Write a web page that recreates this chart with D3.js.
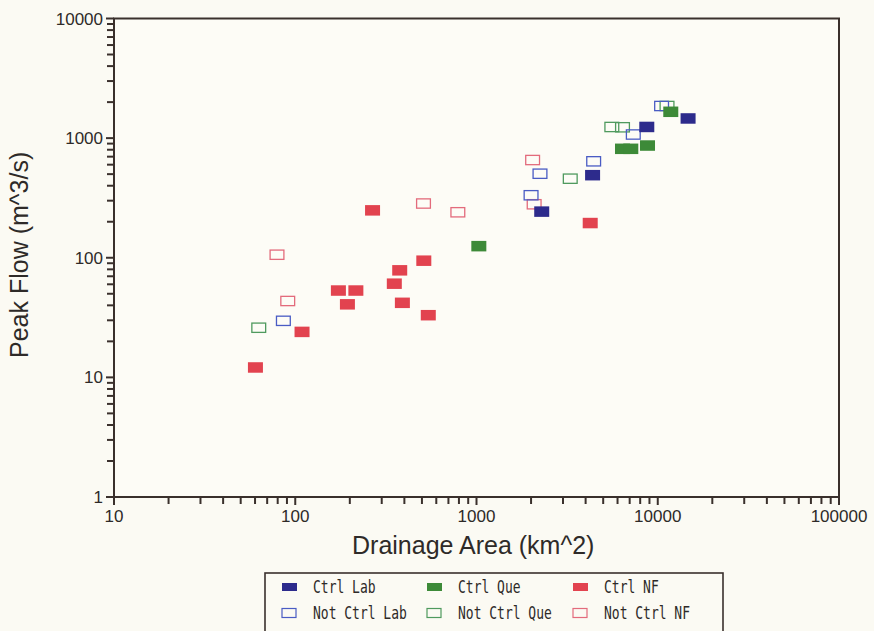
<!DOCTYPE html>
<html>
<head>
<meta charset="utf-8">
<script src="https://cdn.jsdelivr.net/npm/d3@7"></script>
<style>
  html, body { margin: 0; padding: 0; background: #fbfaf3; }
  svg { display: block; }
</style>
</head>
<body>
<svg id="chart" width="874" height="631"></svg>
<script>
// ---- Data (drainage area km^2, peak flow m^3/s) ----
const seriesNames = ["Ctrl Lab", "Ctrl Que", "Ctrl NF", "Not Ctrl Lab", "Not Ctrl Que", "Not Ctrl NF"];

const ctrlLab = [
  [14700, 1460], [8700, 1240], [4370, 490], [2290, 243]
];
const ctrlQue = [
  [11800, 1660], [8780, 867], [6390, 814], [7100, 814], [1030, 125]
];
const ctrlNF = [
  [267, 249], [512, 94.5], [377, 78.5], [352, 60.7], [173, 53.2], [216, 53.2],
  [194, 40.8], [390, 42.0], [542, 33.1], [109, 24.0], [60.3, 12.1], [4240, 195]
];
const notCtrlLab = [
  [10500, 1856], [7330, 1072], [4430, 640], [2240, 504], [2000, 333], [86, 29.7]
];
const notCtrlQue = [
  [11250, 1856], [5580, 1239], [6390, 1232], [3290, 458], [62.9, 26.0]
];
const notCtrlNF = [
  [510, 284], [789, 240], [79.3, 106], [90.9, 43.5], [2040, 656], [2080, 280]
];

const xTickValues = [10, 100, 1000, 10000, 100000];
const yTickValues = [1, 10, 100, 1000, 10000];

(function () {
const styles = {
  "Ctrl Lab":     { fill: "#2d2b8c", stroke: null },
  "Ctrl Que":     { fill: "#3d8a38", stroke: null },
  "Ctrl NF":      { fill: "#e2434f", stroke: null },
  "Not Ctrl Lab": { fill: "none", stroke: "#4a5cc4" },
  "Not Ctrl Que": { fill: "none", stroke: "#4f9a5e" },
  "Not Ctrl NF":  { fill: "none", stroke: "#e36b7c" }
};
const seriesData = {
  "Ctrl Lab": ctrlLab, "Ctrl Que": ctrlQue, "Ctrl NF": ctrlNF,
  "Not Ctrl Lab": notCtrlLab, "Not Ctrl Que": notCtrlQue, "Not Ctrl NF": notCtrlNF
};

const svg = d3.select("#chart");
const axisColor = "#3a302c";
const textColor = "#2e2a28";

const pLeft = 114, pRight = 839, pTop = 18.5, pBottom = 497;
const x = d3.scaleLog().domain([10, 100000]).range([pLeft, pRight]);
const y = d3.scaleLog().domain([1, 10000]).range([pBottom, pTop]);

function minorTicks(domainMin, domainMax) {
  const out = [];
  for (let p = domainMin; p < domainMax; p *= 10) {
    for (let k = 2; k <= 9; k++) out.push(p * k);
  }
  return out;
}
const g = svg.append("g");

g.append("rect").attr("x", pLeft).attr("y", pTop).attr("width", pRight - pLeft).attr("height", pBottom - pTop)
  .attr("fill", "#fdfcf6").attr("stroke", axisColor).attr("stroke-width", 2);

minorTicks(10, 100000).forEach(v => {
  g.append("line").attr("x1", x(v)).attr("x2", x(v)).attr("y1", pBottom).attr("y2", pBottom + 7)
    .attr("stroke", axisColor).attr("stroke-width", 2);
});
xTickValues.forEach(v => {
  g.append("line").attr("x1", x(v)).attr("x2", x(v)).attr("y1", pBottom).attr("y2", pBottom + 8)
    .attr("stroke", axisColor).attr("stroke-width", 2);
  g.append("text").attr("x", x(v)).attr("y", pBottom + 25).attr("text-anchor", "middle")
    .attr("font-family", "Liberation Sans, Arial, sans-serif").attr("font-size", 17)
    .attr("fill", textColor).text(v);
});
minorTicks(1, 10000).forEach(v => {
  g.append("line").attr("x1", pLeft - 7).attr("x2", pLeft).attr("y1", y(v)).attr("y2", y(v))
    .attr("stroke", axisColor).attr("stroke-width", 2);
});
yTickValues.forEach(v => {
  g.append("line").attr("x1", pLeft - 8).attr("x2", pLeft).attr("y1", y(v)).attr("y2", y(v))
    .attr("stroke", axisColor).attr("stroke-width", 2);
  g.append("text").attr("x", pLeft - 11).attr("y", y(v) + 6).attr("text-anchor", "end")
    .attr("font-family", "Liberation Sans, Arial, sans-serif").attr("font-size", 17)
    .attr("fill", textColor).text(v);
});

g.append("text").attr("x", 352).attr("y", 554).attr("text-anchor", "start")
  .attr("font-family", "Liberation Sans, Arial, sans-serif").attr("font-size", 25)
  .attr("fill", textColor).text("Drainage Area (km^2)");
g.append("text").attr("transform", "translate(28,358) rotate(-90)").attr("text-anchor", "start")
  .attr("font-family", "Liberation Sans, Arial, sans-serif").attr("font-size", 25)
  .attr("fill", textColor).text("Peak Flow (m^3/s)");

const mw = 15, mh = 10.5;
const drawOrder = ["Not Ctrl NF", "Not Ctrl Que", "Not Ctrl Lab", "Ctrl NF", "Ctrl Que", "Ctrl Lab"];
drawOrder.forEach(name => {
  const st = styles[name];
  g.append("g").selectAll("rect").data(seriesData[name]).join("rect")
    .attr("x", d => x(d[0]) - mw / 2 + (st.stroke ? 0.6 : 0))
    .attr("y", d => y(d[1]) - mh / 2 + (st.stroke ? 0.6 : 0))
    .attr("width", st.stroke ? mw - 1.2 : mw)
    .attr("height", st.stroke ? mh - 1.2 : mh)
    .attr("fill", st.fill)
    .attr("stroke", st.stroke || "none")
    .attr("stroke-width", 1.3);
});

const lg = svg.append("g");
lg.append("rect").attr("x", 265).attr("y", 573).attr("width", 458).attr("height", 70)
  .attr("fill", "#fbfaf3").attr("stroke", axisColor).attr("stroke-width", 1.6);
const colX = [282, 427, 573];
const rowY = [587, 613];
seriesNames.forEach((name, i) => {
  const col = i % 3, row = Math.floor(i / 3);
  const st = styles[name];
  if (st.stroke) {
    lg.append("rect").attr("x", colX[col]).attr("y", rowY[row] - 4.5).attr("width", 14).attr("height", 9)
      .attr("fill", "none").attr("stroke", st.stroke).attr("stroke-width", 1.2);
  } else {
    lg.append("rect").attr("x", colX[col]).attr("y", rowY[row] - 4).attr("width", 15).attr("height", 8)
      .attr("fill", st.fill);
  }
  lg.append("text")
    .attr("transform", `translate(${colX[col] + 31},${rowY[row] + 6}) scale(1,1.3)`)
    .attr("font-family", "DejaVu Sans Mono, monospace").attr("font-size", 13)
    .attr("fill", textColor).text(name);
});
})();
</script>
</body>
</html>
